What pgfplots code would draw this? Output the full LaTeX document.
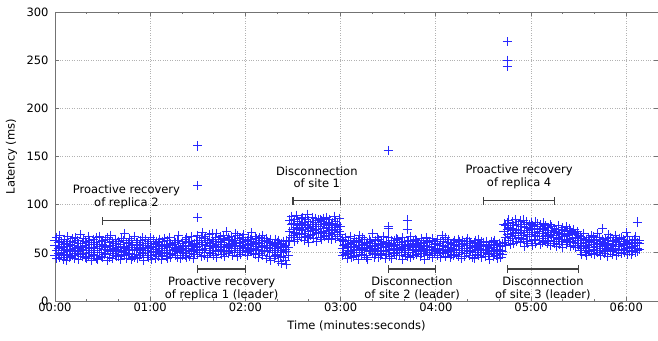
\documentclass[border=0pt]{standalone}
\usepackage{pgfplots}
\usepackage{pgfplotstable}
\pgfplotsset{compat=1.18}
\usepackage{fontspec}
\setmainfont{DejaVu Sans}
\newcommand\cf{\fontsize{11.5bp}{12.8bp}\selectfont}
\definecolor{ptblue}{RGB}{40,40,255}

\pgfplotstableread{
t a b c
0 58 47 63
1 52 66 44
2 61 49 55
3 45 57 68
4 56 62 48
5 50 43 59
6 64 53 47
7 54 60 42
8 48 67 57
9 59 51 45
10 62 46 54
11 47 58 65
12 55 44 61
13 66 52 49
14 51 63 56
15 43 55 60
16 57 48 69
17 60 54 46
18 49 65 53
19 58 45 62
20 53 61 44
21 46 56 67
22 63 50 55
23 52 42 59
24 56 64 48
25 61 47 53
26 44 59 66
27 55 52 43
28 67 57 50
29 50 46 62
30 59 63 45
31 48 54 58
32 64 49 56
33 53 66 42
34 45 57 61
35 58 51 68
36 62 44 52
37 49 60 55
38 54 47 64
39 60 56 46
40 46 62 53
41 57 43 59
42 51 65 48
43 63 50 57
44 47 55 70
45 56 61 44
46 52 48 60
47 65 54 49
48 43 58 63
49 59 46 52
50 54 67 45
51 48 53 61
52 61 44 56
53 55 59 47
54 50 63 54
55 66 49 58
56 45 56 42
57 58 52 64
58 53 60 47
59 62 45 55
60 47 57 66
61 56 51 43
62 60 64 50
63 44 54 59
64 57 48 62
65 51 61 46
66 64 55 53
67 49 43 58
68 55 62 47
69 59 50 65
70 46 57 52
71 63 53 44
72 52 66 56
73 48 45 60
74 58 59 49
75 54 52 63
76 61 47 55
77 45 63 51
78 57 56 68
79 50 44 54
80 62 60 47
81 53 49 58
82 47 55 64
83 66 52 45
84 55 61 57
85 49 46 62
86 58 67 51
87 52 54 44
88 60 48 59
89 56 63 53
90 57 68 48
91 63 50 59
92 46 61 66
93 59 54 71
94 52 65 47
95 67 58 55
96 61 45 63
97 55 69 50
98 49 60 57
99 64 53 70
100 58 47 62
101 53 66 56
102 70 59 45
103 56 51 64
104 62 67 54
105 48 57 61
106 65 52 68
107 59 63 46
108 51 56 72
109 66 49 58
110 57 64 53
111 60 55 67
112 47 62 59
113 63 58 50
114 55 70 61
115 68 53 46
116 52 60 65
117 61 48 57
118 58 66 52
119 64 55 69
120 50 62 56
121 59 47 63
122 66 58 51
123 54 64 60
124 62 52 71
125 49 59 55
126 57 67 48
127 65 54 61
128 53 60 45
129 60 49 66
130 56 63 52
131 47 57 68
132 63 51 58
133 58 65 44
134 52 56 62
135 61 46 55
136 55 64 42
137 50 58 60
138 59 44 53
139 64 55 47
140 48 61 57
141 56 41 63
142 53 59 46
143 60 50 39
144 45 57 62
145 58 42 54
146 51 63 38
147 62 47 56
148 72 84 63
149 79 66 88
150 68 81 74
151 85 71 62
152 76 89 70
153 64 78 83
154 81 69 75
155 73 86 66
156 87 74 79
157 70 63 82
158 78 85 67
159 66 76 90
160 83 72 61
161 75 80 68
162 69 87 77
163 80 65 73
164 74 82 86
165 62 77 71
166 84 70 79
167 77 66 85
168 71 83 64
169 86 75 72
170 67 79 81
171 76 68 87
172 82 73 65
173 70 85 78
174 79 64 74
175 73 81 69
176 88 71 76
177 65 78 83
178 80 74 67
179 72 86 77
180 77 69 63
181 55 64 47
182 62 50 58
183 48 59 66
184 57 44 53
185 63 56 49
186 51 67 60
187 59 52 45
188 46 61 57
189 65 54 50
190 53 47 62
191 58 63 43
192 50 56 68
193 61 48 55
194 54 66 59
195 47 53 64
196 60 58 45
197 56 43 61
198 64 55 51
199 52 62 57
200 49 57 70
201 58 45 54
202 63 60 48
203 55 51 66
204 45 64 58
205 59 53 47
206 62 49 56
207 51 67 60
208 57 56 44
209 48 61 53
210 66 52 59
211 54 58 46
212 60 44 63
213 50 55 57
214 58 63 49
215 53 47 65
216 64 59 52
217 47 54 61
218 61 50 56
219 55 66 43
220 52 57 62
221 59 48 55
222 46 62 58
223 63 53 50
224 57 45 67
225 50 60 54
226 62 56 47
227 54 64 59
228 48 51 63
229 60 58 52
230 56 46 57
231 65 61 49
232 51 55 60
233 58 43 54
234 53 63 66
235 61 50 48
236 47 57 62
237 57 52 56
238 63 65 45
239 49 54 59
240 55 60 51
241 60 47 64
242 52 58 55
243 45 62 50
244 58 53 68
245 62 49 57
246 54 66 46
247 50 56 61
248 64 51 53
249 56 45 60
250 48 59 55
251 61 54 47
252 53 63 58
253 59 48 52
254 46 57 64
255 57 62 50
256 52 44 59
257 63 55 53
258 55 60 46
259 49 52 62
260 58 65 55
261 62 47 51
262 51 58 60
263 56 53 45
264 44 61 57
265 60 50 63
266 54 56 48
267 47 64 55
268 58 52 59
269 53 45 62
270 61 57 50
271 50 54 46
272 57 62 53
273 48 49 58
274 55 59 43
275 62 51 56
276 46 56 61
277 52 63 49
278 59 47 54
279 54 58 44
280 49 53 60
281 57 45 52
282 51 60 48
283 72 61 80
284 66 78 58
285 81 69 74
286 63 76 84
287 75 67 59
288 70 82 65
289 78 60 73
290 68 85 71
291 62 74 79
292 80 66 70
293 73 83 61
294 65 71 77
295 84 64 68
296 71 79 57
297 76 62 82
298 60 73 69
299 79 67 75
300 69 81 63
301 74 58 78
302 64 77 71
303 82 68 60
304 67 75 80
305 72 63 70
306 77 79 59
307 61 70 74
308 75 65 81
309 68 78 62
310 73 60 71
311 63 76 67
312 79 69 58
313 66 73 77
314 71 62 68
315 60 75 72
316 74 66 57
317 65 71 78
318 70 59 64
319 62 74 69
320 76 64 56
321 67 70 73
322 59 77 63
323 72 61 68
324 64 69 75
325 57 73 62
326 69 65 71
327 61 74 58
328 66 56 70
329 72 63 60
330 58 68 65
331 60 52 67
332 55 65 48
333 63 57 70
334 50 61 55
335 58 47 64
336 66 56 51
337 53 62 59
338 61 49 68
339 56 67 54
340 48 59 63
341 64 53 57
342 57 70 50
343 52 60 66
344 62 55 47
345 59 64 53
346 49 57 61
347 65 51 58
348 54 63 46
349 60 56 69
350 51 66 55
351 58 48 62
352 63 59 52
353 55 68 57
354 47 61 64
355 62 54 50
356 57 65 59
357 53 49 66
358 64 58 54
359 50 62 60
360 59 55 71
361 56 67 48
362 61 52 63
363 48 60 56
364 63 57 51
365 55 64 61
366 58 50 67
367 52 61 55
368 60 54 63
}\cloud

\pgfplotstableread{
t y
90 161
90 120
90 87
210 156
210 77
210 75
222 84
222 74
285 269
285 250
285 244
345 75
367 82
}\outliers

\begin{document}
\begin{tikzpicture}
\path[use as bounding box] (0,0) rectangle (658bp,341bp);
\begin{axis}[
  at={(55bp,40bp)}, anchor=south west,
  scale only axis, width=603bp, height=289bp,
  xmin=0, xmax=380, ymin=0, ymax=300,
  clip=false,
  xtick={0,60,120,180,240,300,360},
  xticklabels={00:00,01:00,02:00,03:00,04:00,05:00,06:00},
  minor x tick num=2,
  ytick={0,50,100,150,200,250,300},
  yticklabels={0,50,100,150,200,250,300},
  tick align=inside,
  major tick length=4bp, minor tick length=2.5bp,
  axis line style={black!55, line width=0.8bp},
  tick style={black!55, line width=0.8bp},
  grid=major,
  grid style={dotted, black!30, line width=0.7bp},
  tick label style={font=\cf},
  /pgf/number format/assume math mode=true,
  xticklabel style={yshift=1.5bp},
  yticklabel style={xshift=-3bp},
  xlabel={Time (minutes:seconds)},
  ylabel={Latency (ms)},
  label style={font=\cf},
  xlabel style={at={(axis description cs:0.5,0)}, anchor=north, inner sep=0pt, yshift=-20bp},
  ylabel style={at={(axis description cs:-0.0721,0.5)}, anchor=center, inner sep=0pt},
  pt/.style={only marks, mark=+, mark size=4.6bp, color=ptblue,
     mark options={solid, line width=0.85bp, draw=ptblue}},
]
\addplot[pt] table[x=t,y=a] {\cloud};
\addplot[pt] table[x=t,y=b] {\cloud};
\addplot[pt] table[x=t,y=c] {\cloud};
\addplot[pt] table[x=t,y=y] {\outliers};

\begin{scope}[black!75, line width=1.2bp]
\draw (axis cs:30,83.4) -- (axis cs:60,83.4);
\draw (axis cs:30,83.4) ++(0,-4bp) -- ++(0,8bp);
\draw (axis cs:60,83.4) ++(0,-4bp) -- ++(0,8bp);
\draw (axis cs:90,33.2) -- (axis cs:120,33.2);
\draw (axis cs:90,33.2) ++(0,-4bp) -- ++(0,8bp);
\draw (axis cs:120,33.2) ++(0,-4bp) -- ++(0,8bp);
\draw (axis cs:150,104.1) -- (axis cs:180,104.1);
\draw (axis cs:150,104.1) ++(0,-4bp) -- ++(0,8bp);
\draw (axis cs:180,104.1) ++(0,-4bp) -- ++(0,8bp);
\draw (axis cs:210,33.2) -- (axis cs:240,33.2);
\draw (axis cs:210,33.2) ++(0,-4bp) -- ++(0,8bp);
\draw (axis cs:240,33.2) ++(0,-4bp) -- ++(0,8bp);
\draw (axis cs:270,104.1) -- (axis cs:315,104.1);
\draw (axis cs:270,104.1) ++(0,-4bp) -- ++(0,8bp);
\draw (axis cs:315,104.1) ++(0,-4bp) -- ++(0,8bp);
\draw (axis cs:285,33.2) -- (axis cs:330,33.2);
\draw (axis cs:285,33.2) ++(0,-4bp) -- ++(0,8bp);
\draw (axis cs:330,33.2) ++(0,-4bp) -- ++(0,8bp);
\end{scope}

\begin{scope}[every node/.style={font=\cf, align=center, inner sep=0pt, text=black}]
\node[anchor=south, yshift=11.5bp] at (axis cs:45,83.4) {Proactive recovery\\of replica 2};
\node[anchor=north, yshift=-8bp] at (axis cs:105,33.2) {Proactive recovery\\of replica 1 (leader)};
\node[anchor=south, yshift=12.5bp] at (axis cs:165,104.1) {Disconnection\\of site 1};
\node[anchor=north, yshift=-8bp] at (axis cs:225,33.2) {Disconnection\\of site 2 (leader)};
\node[anchor=south, yshift=11.5bp] at (axis cs:292.5,104.1) {Proactive recovery\\of replica 4};
\node[anchor=north, yshift=-8bp] at (axis cs:307.5,33.2) {Disconnection\\of site 3 (leader)};
\end{scope}
\end{axis}
\end{tikzpicture}
\end{document}
